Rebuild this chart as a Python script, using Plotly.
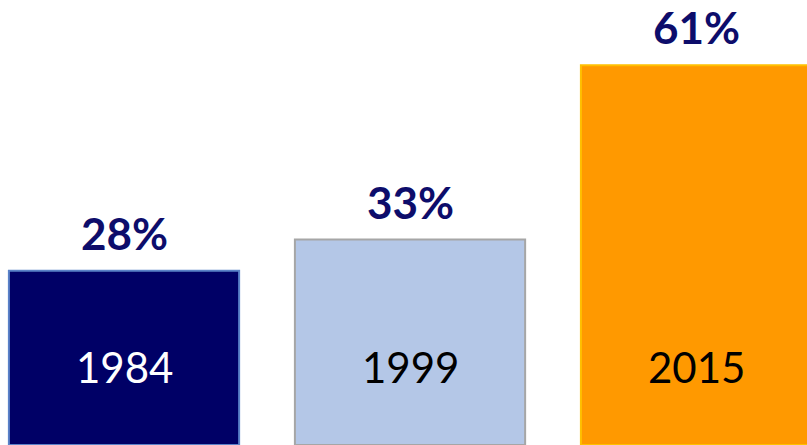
import plotly.graph_objects as go

years = ["1984", "1999", "2015"]
shares = [28, 33, 61]
labels = ["28%", "33%", "61%"]
fill_colors = ["#000066", "#B4C7E7", "#FF9900"]
edge_colors = ["#5A82C8", "#A6A6A6", "#FFC000"]
year_text_colors = ["#FFFFFF", "#000000", "#000000"]

xs = list(range(len(years)))

fig = go.Figure()
fig.add_trace(go.Bar(
    x=xs, y=shares, width=0.805,
    marker=dict(color=fill_colors, line=dict(color=edge_colors, width=2)),
    hoverinfo="skip",
))

for i in xs:
    fig.add_annotation(x=i, y=shares[i], text=labels[i], showarrow=False,
                       yanchor="middle", yshift=38,
                       font=dict(family="Lato", size=44, color="#0D0D6B", weight="bold"))
    fig.add_annotation(x=i, y=0, text=years[i], showarrow=False,
                       yanchor="middle", yshift=78,
                       font=dict(family="Lato", size=42, color=year_text_colors[i]))

fig.update_layout(
    width=807, height=445,
    margin=dict(l=0, r=0, t=0, b=0),
    paper_bgcolor="white", plot_bgcolor="white",
    showlegend=False,
    xaxis=dict(range=[-0.4336, 2.388], visible=False),
    yaxis=dict(range=[0, 71.5], visible=False),
)

fig.write_html("out.html")
